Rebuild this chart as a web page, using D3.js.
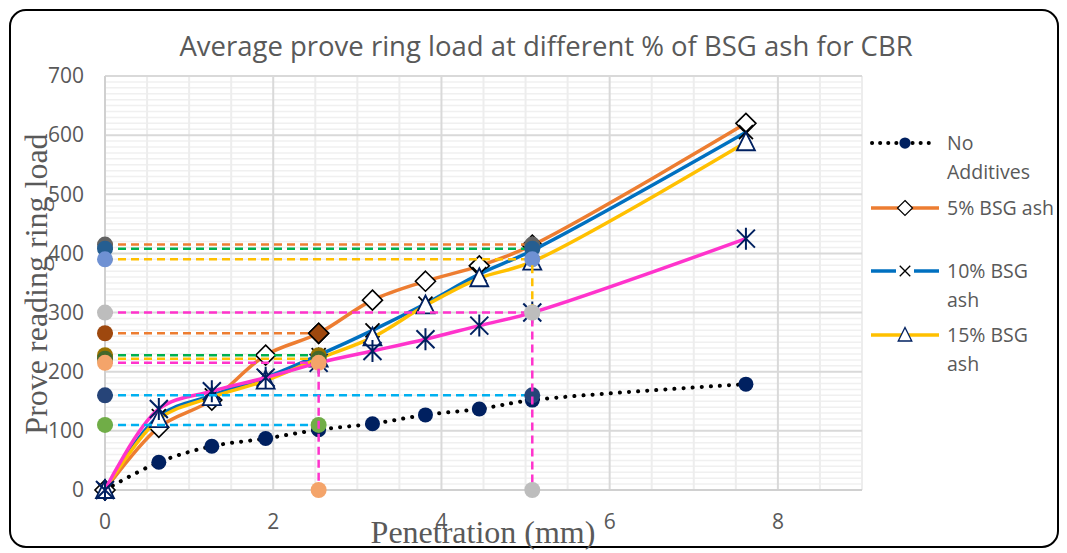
<!DOCTYPE html>
<html>
<head>
<meta charset="utf-8">
<title>Average prove ring load at different % of BSG ash for CBR</title>
<script src="https://cdn.jsdelivr.net/npm/d3@7"></script>
<style>
    html, body { margin: 0; padding: 0; background: #ffffff; }
    #chart { width: 1067px; height: 553px; }
    .tick-label { font-family: 'Open Sans', 'Noto Sans', sans-serif; font-size: 21px; fill: #595959; }
    .legend-label { font-family: 'Open Sans', 'Noto Sans', sans-serif; font-size: 19.5px; fill: #595959; }
    .axis-title { font-family: 'Liberation Serif', 'DejaVu Serif', serif; font-size: 32px; fill: #595959; }
    .chart-title { font-family: 'Open Sans', 'Noto Sans', sans-serif; font-size: 27.5px; fill: #595959; }
</style>
</head>
<body>
<div id="chart"></div>
<script>
// ============================================
// CBR TEST - PROVE RING LOAD vs PENETRATION
// ============================================

// penetration readings (mm), shared by all series
const penetration = [0, 0.64, 1.27, 1.91, 2.54, 3.18, 3.81, 4.45, 5.08, 7.62];

// average prove ring load per mix
const noAdditives = [0, 47, 74, 87, 102, 112, 127, 137, 152, 179];
const bsg5 = [0, 106, 152, 228, 265, 321, 353, 379, 414, 620];
const bsg10 = [0, 125, 160, 190, 228, 270, 315, 365, 405, 605];
const bsg15 = [0, 120, 157, 185, 222, 258, 312, 358, 386, 588];
const bsg20 = [0, 137, 167, 190, 215, 235, 255, 278, 300, 425];

const seriesNames = ['No Additives', '5% BSG ash', '10% BSG ash', '15% BSG ash', '20% BSG ash'];

const guideLoads = [415, 408, 390, 300, 265, 228, 222, 215, 160, 110];
const guideReach = [5.08, 5.08, 5.08, 5.08, 2.54, 2.54, 2.54, 2.54, 5.08, 2.54];

// vertical drop guides
const dropAt = [2.54, 5.08, 5.08];
const dropFrom = [215, 390, 300];
const dropTo = [0, 300, 0];

// axis ticks
const xTicks = [0, 2, 4, 6, 8];
const yTicks = [0, 100, 200, 300, 400, 500, 600, 700];

// ---- styles ----
const seriesColors = ['#000000', '#ED7D31', '#0070C0', '#FFC000', '#FF33CC'];
const seriesMarkers = ['circle', 'diamond', 'x', 'triangle', 'star'];
const guideLineColors = ['#ED7D31', '#00B050', '#FFC000', '#FF33CC', '#ED7D31',
    '#00B050', '#FFC000', '#FF33CC', '#00B0F0', '#00B0F0'];
const guideDotColors = ['#636363', '#255E91', '#6F91D3', '#BDBDBD', '#9E480E',
    '#997300', '#43682B', '#F4A46A', '#264478', '#70AD47'];
const dropColors = ['#FF33CC', '#FFC000', '#FF33CC'];
const dropDotColors = ['#F4A46A', '#BDBDBD', '#BDBDBD'];

const W = 1067, H = 553;
const plot = { left: 105, right: 862, top: 76, bottom: 490 };

const svg = d3.select('#chart').append('svg')
    .attr('width', W)
    .attr('height', H);

// outer frame
svg.append('rect')
    .attr('x', 10).attr('y', 10)
    .attr('width', 1048).attr('height', 537)
    .attr('rx', 16)
    .attr('fill', '#fff')
    .attr('stroke', '#000')
    .attr('stroke-width', 2);

const x = d3.scaleLinear().domain([0, 9]).range([plot.left, plot.right]);
const y = d3.scaleLinear().domain([0, 700]).range([plot.bottom, plot.top]);

// ---- gridlines ----
const grid = svg.append('g');
grid.selectAll('.hminor')
    .data(d3.range(0, 701, 10).filter(v => v % 100 !== 0))
    .enter().append('line')
    .attr('x1', plot.left).attr('x2', plot.right)
    .attr('y1', d => y(d)).attr('y2', d => y(d))
    .attr('stroke', '#F0F0F0').attr('stroke-width', 1.5);
grid.selectAll('.vminor')
    .data(d3.range(0.5, 9.01, 0.5).filter(v => v % 2 !== 0))
    .enter().append('line')
    .attr('x1', d => x(d)).attr('x2', d => x(d))
    .attr('y1', plot.top).attr('y2', plot.bottom)
    .attr('stroke', '#EDEDED').attr('stroke-width', 2);
grid.selectAll('.hmajor')
    .data(yTicks.slice(1))
    .enter().append('line')
    .attr('x1', plot.left).attr('x2', plot.right)
    .attr('y1', d => y(d)).attr('y2', d => y(d))
    .attr('stroke', '#D9D9D9').attr('stroke-width', 2);
grid.selectAll('.vmajor')
    .data(xTicks.slice(1))
    .enter().append('line')
    .attr('x1', d => x(d)).attr('x2', d => x(d))
    .attr('y1', plot.top).attr('y2', plot.bottom)
    .attr('stroke', '#D9D9D9').attr('stroke-width', 2);

// axis lines
svg.append('line')
    .attr('x1', plot.left).attr('x2', plot.right)
    .attr('y1', y(0)).attr('y2', y(0))
    .attr('stroke', '#D0D0D0').attr('stroke-width', 2);
svg.append('line')
    .attr('x1', x(0)).attr('x2', x(0))
    .attr('y1', plot.top).attr('y2', plot.bottom)
    .attr('stroke', '#D0D0D0').attr('stroke-width', 2);

// tick labels
svg.append('g').selectAll('text')
    .data(yTicks)
    .enter().append('text')
    .attr('class', 'tick-label')
    .attr('x', 84)
    .attr('y', d => y(d))
    .attr('dy', '0.35em')
    .attr('text-anchor', 'end')
    .text(d => d);
svg.append('g').selectAll('text')
    .data(xTicks)
    .enter().append('text')
    .attr('class', 'tick-label')
    .attr('x', d => x(d))
    .attr('y', 522)
    .attr('dy', '0.35em')
    .attr('text-anchor', 'middle')
    .text(d => d);

// ---- marker shapes ----
function drawMarker(g, type, cx, cy, color) {
    const m = g.append('g').attr('transform', `translate(${cx},${cy})`);
    if (type === 'circle') {
        m.append('circle').attr('r', 7.5).attr('fill', '#002060');
    } else if (type === 'diamond') {
        m.append('path').attr('d', 'M0,-10L10,0L0,10L-10,0Z')
            .attr('fill', '#fff').attr('stroke', '#000').attr('stroke-width', 1.6);
    } else if (type === 'x') {
        m.append('path').attr('d', 'M-7,-7L7,7M7,-7L-7,7')
            .attr('stroke', '#000').attr('stroke-width', 1.8);
    } else if (type === 'triangle') {
        m.append('path').attr('d', 'M0,-10L9,8L-9,8Z')
            .attr('fill', '#fff').attr('stroke', '#002060').attr('stroke-width', 1.8);
    } else if (type === 'star') {
        m.append('path').attr('d', 'M-9,-9L9,9M9,-9L-9,9M0,-11L0,11')
            .attr('stroke', '#002060').attr('stroke-width', 2);
    } else if (type === 'dot') {
        m.append('circle').attr('r', 8).attr('fill', color);
    } else if (type === 'filled-diamond') {
        m.append('path').attr('d', 'M0,-10L10,0L0,10L-10,0Z')
            .attr('fill', color).attr('stroke', '#000').attr('stroke-width', 1.6);
    }
}

// ---- data series ----
const allSeries = [noAdditives, bsg5, bsg10, bsg15, bsg20];
const line = d3.line()
    .x(d => x(d[0]))
    .y(d => y(d[1]))
    .curve(d3.curveCatmullRom.alpha(0.5));

const seriesG = svg.append('g');
allSeries.forEach((vals, i) => {
    const pts = penetration.map((p, j) => [p, vals[j]]);
    const path = seriesG.append('path')
        .attr('d', line(pts))
        .attr('fill', 'none')
        .attr('stroke', seriesColors[i]);
    if (i === 0) {
        path.attr('stroke-width', 4)
            .attr('stroke-dasharray', '0.1 9')
            .attr('stroke-linecap', 'round');
    } else {
        path.attr('stroke-width', 3.5);
    }
    const mg = seriesG.append('g');
    pts.forEach(p => drawMarker(mg, seriesMarkers[i], x(p[0]), y(p[1])));
});

// ---- reading guides ----
const guideG = svg.append('g');
guideLoads.forEach((load, i) => {
    guideG.append('line')
        .attr('x1', x(0)).attr('x2', x(guideReach[i]))
        .attr('y1', y(load)).attr('y2', y(load))
        .attr('stroke', guideLineColors[i])
        .attr('stroke-width', 2.5)
        .attr('stroke-dasharray', '8 5');
});
guideLoads.forEach((load, i) => {
    drawMarker(guideG, 'dot', x(0), y(load), guideDotColors[i]);
    const endType = load === 265 ? 'filled-diamond' : 'dot';
    drawMarker(guideG, endType, x(guideReach[i]), y(load), guideDotColors[i]);
});
dropAt.forEach((px, i) => {
    guideG.append('line')
        .attr('x1', x(px)).attr('x2', x(px))
        .attr('y1', y(dropFrom[i]) + 6).attr('y2', y(dropTo[i]))
        .attr('stroke', dropColors[i])
        .attr('stroke-width', 2.5)
        .attr('stroke-dasharray', '8 5');
});
dropAt.forEach((px, i) => {
    drawMarker(guideG, 'dot', x(px), y(dropTo[i]), dropDotColors[i]);
});

// ---- titles ----
svg.append('text')
    .attr('class', 'chart-title')
    .attr('x', 546).attr('y', 56)
    .attr('text-anchor', 'middle')
    .text('Average prove ring load at different % of BSG ash for CBR');

svg.append('text')
    .attr('class', 'axis-title')
    .attr('transform', 'translate(47,284) rotate(-90)')
    .attr('text-anchor', 'middle')
    .text('Prove reading ring load');

svg.append('text')
    .attr('class', 'axis-title')
    .attr('x', 483).attr('y', 543)
    .attr('text-anchor', 'middle')
    .text('Penetration (mm)');

// ---- legend (first four series) ----
const legendRows = [
    { lines: ['No', 'Additives'], y: 143 },
    { lines: ['5% BSG ash'], y: 208 },
    { lines: ['10% BSG', 'ash'], y: 271 },
    { lines: ['15% BSG', 'ash'], y: 335 }
];
const legend = svg.append('g');
legendRows.forEach((row, i) => {
    const sym = legend.append('g');
    const ln = sym.append('line')
        .attr('x1', 871).attr('x2', 939)
        .attr('y1', row.y).attr('y2', row.y)
        .attr('stroke', seriesColors[i]);
    if (i === 0) {
        ln.attr('stroke-width', 4)
            .attr('stroke-dasharray', '0.1 8')
            .attr('stroke-linecap', 'round')
            .attr('x1', 872).attr('x2', 930);
    } else {
        ln.attr('stroke-width', 3.5);
    }
    if (i === 2) {
        sym.append('rect').attr('x', 896).attr('y', row.y - 4)
            .attr('width', 18).attr('height', 8).attr('fill', '#fff');
    }
    const mk = sym.append('g').attr('transform', `translate(905,${row.y}) scale(0.75)`);
    drawMarker(mk, seriesMarkers[i], 0, 0);

    row.lines.forEach((t, k) => {
        legend.append('text')
            .attr('class', 'legend-label')
            .attr('x', 947)
            .attr('y', row.y + k * 29)
            .attr('dy', '0.35em')
            .text(t);
    });
});
</script>
</body>
</html>
